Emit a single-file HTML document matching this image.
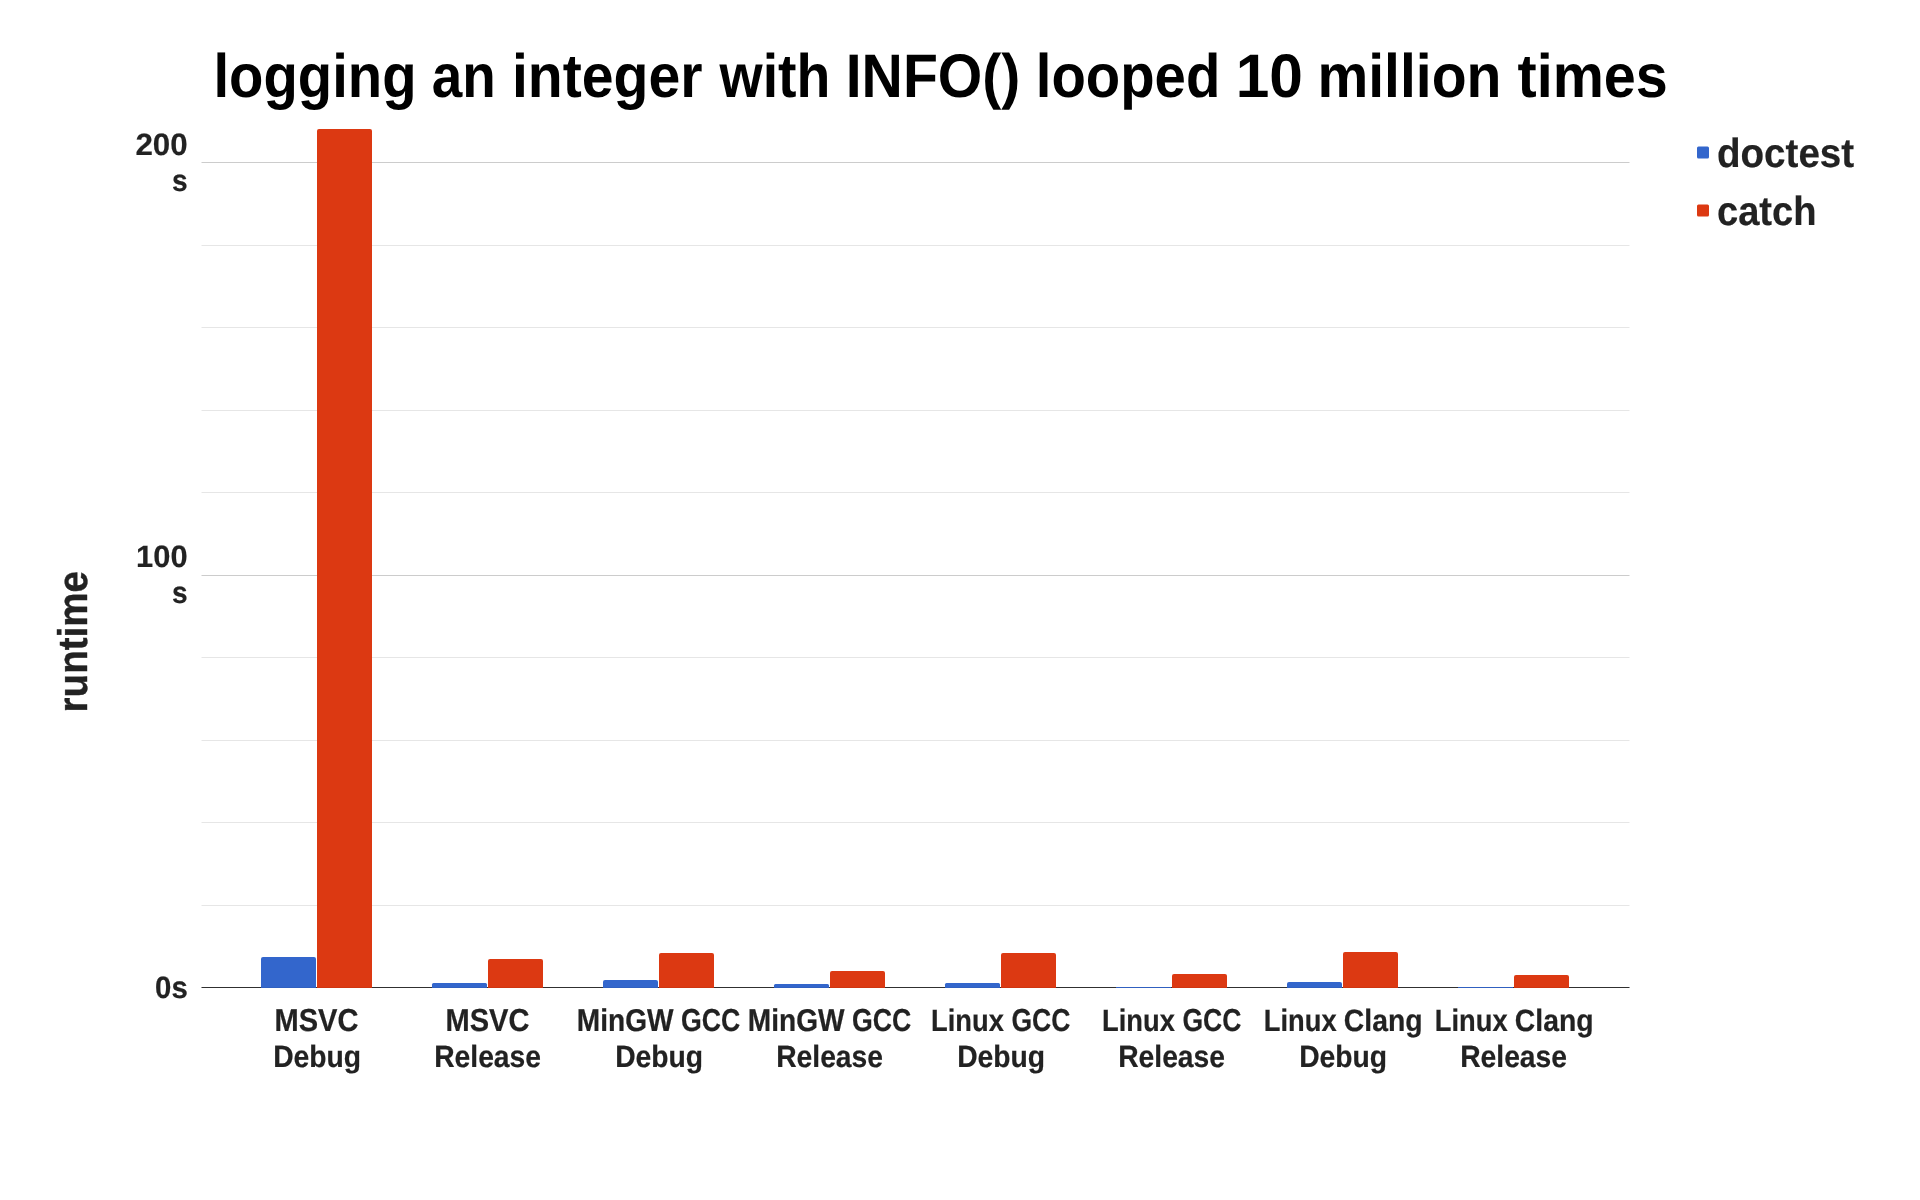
<!DOCTYPE html>
<html><head><meta charset="utf-8"><title>logging an integer with INFO() looped 10 million times</title>
<style>html,body{margin:0;padding:0;background:#fff;}body{width:1920px;height:1200px;overflow:hidden;}svg{display:block;will-change:transform;}text{text-rendering:geometricPrecision;font-family:"Liberation Sans",sans-serif;font-weight:bold;}</style></head><body>
<svg width="1920" height="1200" viewBox="0 0 1920 1200">
<rect x="0" y="0" width="1920" height="1200" fill="#ffffff"/>
<g>
<rect x="201.5" y="905" width="1428" height="1" fill="#e6e6e6"/>
<rect x="201.5" y="822" width="1428" height="1" fill="#e6e6e6"/>
<rect x="201.5" y="740" width="1428" height="1" fill="#e6e6e6"/>
<rect x="201.5" y="657" width="1428" height="1" fill="#e6e6e6"/>
<rect x="201.5" y="575" width="1428" height="1" fill="#cccccc"/>
<rect x="201.5" y="492" width="1428" height="1" fill="#e6e6e6"/>
<rect x="201.5" y="410" width="1428" height="1" fill="#e6e6e6"/>
<rect x="201.5" y="327" width="1428" height="1" fill="#e6e6e6"/>
<rect x="201.5" y="245" width="1428" height="1" fill="#e6e6e6"/>
<rect x="201.5" y="162" width="1428" height="1" fill="#cccccc"/>
</g>
<rect x="201.5" y="987" width="1428" height="1" fill="#333333"/>
<g>
<path d="M261,988 V959 Q261,957 263,957 H314 Q316,957 316,959 V988 Z" fill="#3366cc"/>
<path d="M317,988 V131 Q317,129 319,129 H370 Q372,129 372,131 V988 Z" fill="#dc3912"/>
<path d="M432,988 V984.5 Q432,983 433.5,983 H485.5 Q487,983 487,984.5 V988 Z" fill="#3366cc"/>
<path d="M488,988 V961 Q488,959 490,959 H541 Q543,959 543,961 V988 Z" fill="#dc3912"/>
<path d="M603,988 V982 Q603,980 605,980 H656 Q658,980 658,982 V988 Z" fill="#3366cc"/>
<path d="M659,988 V955 Q659,953 661,953 H712 Q714,953 714,955 V988 Z" fill="#dc3912"/>
<path d="M774,988 V985.5 Q774,984 775.5,984 H827.5 Q829,984 829,985.5 V988 Z" fill="#3366cc"/>
<path d="M830,988 V973 Q830,971 832,971 H883 Q885,971 885,973 V988 Z" fill="#dc3912"/>
<path d="M945,988 V984.5 Q945,983 946.5,983 H998.5 Q1000,983 1000,984.5 V988 Z" fill="#3366cc"/>
<path d="M1001,988 V955 Q1001,953 1003,953 H1054 Q1056,953 1056,955 V988 Z" fill="#dc3912"/>
<rect x="1116" y="987" width="55" height="1" fill="#3366cc"/>
<path d="M1172,988 V976 Q1172,974 1174,974 H1225 Q1227,974 1227,976 V988 Z" fill="#dc3912"/>
<path d="M1287,988 V984 Q1287,982 1289,982 H1340 Q1342,982 1342,984 V988 Z" fill="#3366cc"/>
<path d="M1343,988 V954 Q1343,952 1345,952 H1396 Q1398,952 1398,954 V988 Z" fill="#dc3912"/>
<rect x="1458" y="987" width="55" height="1" fill="#3366cc"/>
<path d="M1514,988 V977 Q1514,975 1516,975 H1567 Q1569,975 1569,977 V988 Z" fill="#dc3912"/>
</g>
<rect x="201.5" y="987" width="1428" height="1" fill="#000000" fill-opacity="0.06"/>
<text transform="translate(213.48,97) scale(0.9378,1.025)" font-size="60" fill="#000000">logging</text>
<text transform="translate(431.64,97) scale(0.9142,1.025)" font-size="60" fill="#000000">an</text>
<text transform="translate(511.93,97) scale(0.9527,1.025)" font-size="60" fill="#000000">integer</text>
<text transform="translate(719.57,97) scale(0.9237,1.025)" font-size="60" fill="#000000">with</text>
<text transform="translate(845.73,97) scale(0.9528,1.025)" font-size="60" fill="#000000">INFO()</text>
<text transform="translate(1035.78,97) scale(0.9384,1.025)" font-size="60" fill="#000000">looped</text>
<text transform="translate(1235.72,97) scale(1.0073,1.025)" font-size="60" fill="#000000">10</text>
<text transform="translate(1317.43,97) scale(0.9522,1.025)" font-size="60" fill="#000000">million</text>
<text transform="translate(1517.50,97) scale(0.9591,1.025)" font-size="60" fill="#000000">times</text>
<text transform="translate(135.42,155) scale(1.0438,1.03)" font-size="30" fill="#222222" stroke="#222222" stroke-width="0.2">200</text>
<text transform="translate(171.92,190.7) scale(0.9359,1.02)" font-size="30" fill="#222222" stroke="#222222" stroke-width="0.2">s</text>
<text transform="translate(136.07,567.3) scale(1.0285,1.03)" font-size="30" fill="#222222" stroke="#222222" stroke-width="0.2">100</text>
<text transform="translate(171.92,603) scale(0.9359,1.02)" font-size="30" fill="#222222" stroke="#222222" stroke-width="0.2">s</text>
<text transform="translate(155.08,997.7) scale(0.9803,1.03)" font-size="30" fill="#222222" stroke="#222222" stroke-width="0.2">0s</text>
<text transform="translate(274.48,1031) scale(0.9688,1.06)" font-size="30" fill="#222222" stroke="#222222" stroke-width="0.2">MSVC</text>
<text transform="translate(273.13,1067) scale(0.9427,1.025)" font-size="30" fill="#222222" stroke="#222222" stroke-width="0.2">Debug</text>
<text transform="translate(445.48,1031) scale(0.9688,1.06)" font-size="30" fill="#222222" stroke="#222222" stroke-width="0.2">MSVC</text>
<text transform="translate(434.19,1067) scale(0.9413,1.025)" font-size="30" fill="#222222" stroke="#222222" stroke-width="0.2">Release</text>
<text transform="translate(576.74,1031) scale(0.9370,1.05)" font-size="30" fill="#222222" stroke="#222222" stroke-width="0.2">MinGW</text>
<text transform="translate(681.07,1031) scale(0.8886,1.06)" font-size="30" fill="#222222" stroke="#222222" stroke-width="0.2">GCC</text>
<text transform="translate(615.13,1067) scale(0.9427,1.025)" font-size="30" fill="#222222" stroke="#222222" stroke-width="0.2">Debug</text>
<text transform="translate(747.74,1031) scale(0.9370,1.05)" font-size="30" fill="#222222" stroke="#222222" stroke-width="0.2">MinGW</text>
<text transform="translate(852.07,1031) scale(0.8886,1.06)" font-size="30" fill="#222222" stroke="#222222" stroke-width="0.2">GCC</text>
<text transform="translate(776.19,1067) scale(0.9413,1.025)" font-size="30" fill="#222222" stroke="#222222" stroke-width="0.2">Release</text>
<text transform="translate(931.09,1031) scale(0.9105,1.03)" font-size="30" fill="#222222" stroke="#222222" stroke-width="0.2">Linux</text>
<text transform="translate(1011.47,1031) scale(0.8840,1.06)" font-size="30" fill="#222222" stroke="#222222" stroke-width="0.2">GCC</text>
<text transform="translate(957.13,1067) scale(0.9427,1.025)" font-size="30" fill="#222222" stroke="#222222" stroke-width="0.2">Debug</text>
<text transform="translate(1102.09,1031) scale(0.9105,1.03)" font-size="30" fill="#222222" stroke="#222222" stroke-width="0.2">Linux</text>
<text transform="translate(1182.47,1031) scale(0.8840,1.06)" font-size="30" fill="#222222" stroke="#222222" stroke-width="0.2">GCC</text>
<text transform="translate(1118.19,1067) scale(0.9413,1.025)" font-size="30" fill="#222222" stroke="#222222" stroke-width="0.2">Release</text>
<text transform="translate(1263.79,1031) scale(0.9098,1.03)" font-size="30" fill="#222222" stroke="#222222" stroke-width="0.2">Linux</text>
<text transform="translate(1343.86,1031) scale(0.9456,1.03)" font-size="30" fill="#222222" stroke="#222222" stroke-width="0.2">Clang</text>
<text transform="translate(1299.13,1067) scale(0.9427,1.025)" font-size="30" fill="#222222" stroke="#222222" stroke-width="0.2">Debug</text>
<text transform="translate(1434.79,1031) scale(0.9098,1.03)" font-size="30" fill="#222222" stroke="#222222" stroke-width="0.2">Linux</text>
<text transform="translate(1514.86,1031) scale(0.9456,1.03)" font-size="30" fill="#222222" stroke="#222222" stroke-width="0.2">Clang</text>
<text transform="translate(1460.19,1067) scale(0.9413,1.025)" font-size="30" fill="#222222" stroke="#222222" stroke-width="0.2">Release</text>
<text transform="translate(1716.89,167) scale(0.9652,1.02)" font-size="40" fill="#222222" stroke="#222222" stroke-width="0.2">doctest</text>
<text transform="translate(1716.91,225) scale(0.9540,1.02)" font-size="40" fill="#222222" stroke="#222222" stroke-width="0.2">catch</text>
<text transform="translate(86.7,712.41) rotate(-90) scale(0.9638,1.035)" font-size="40" fill="#222222" stroke="#222222" stroke-width="0.4">runtime</text>
<rect x="1697" y="146.5" width="12" height="12" rx="1.5" fill="#3366cc"/>
<rect x="1697" y="204.5" width="12" height="12" rx="1.5" fill="#dc3912"/>
</svg></body></html>
